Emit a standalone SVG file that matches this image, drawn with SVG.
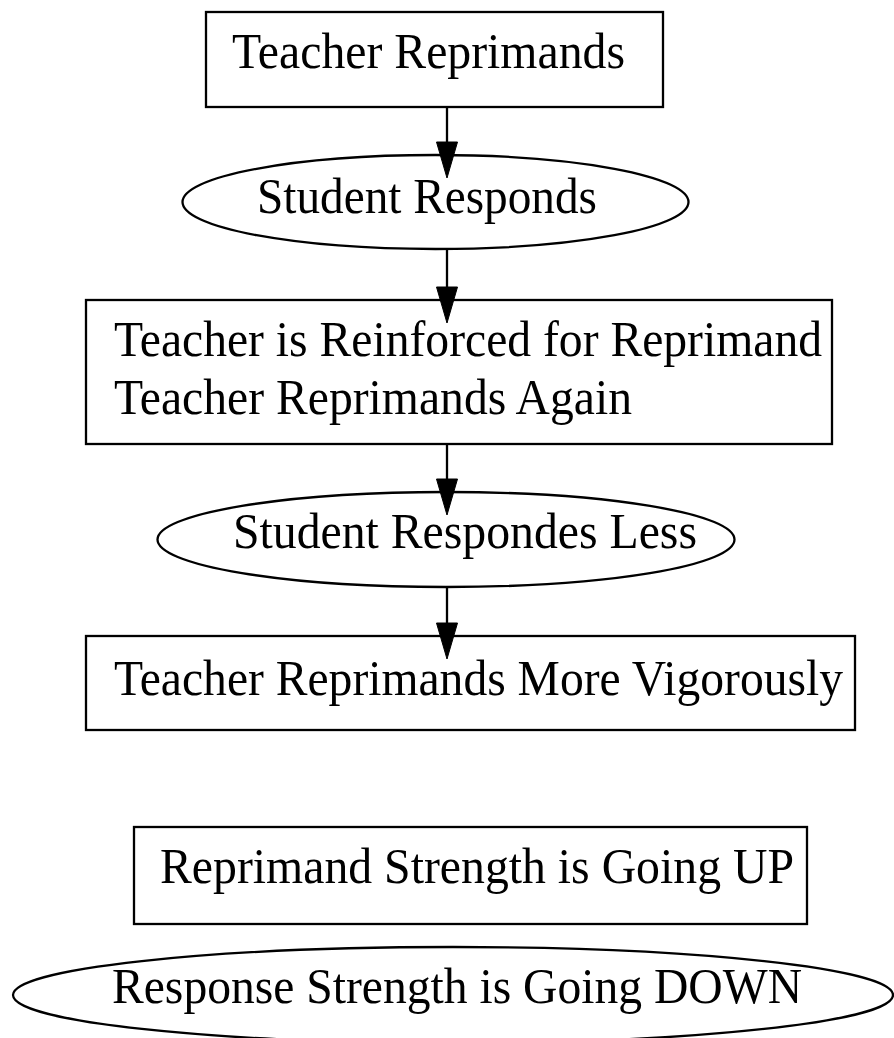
<svg xmlns="http://www.w3.org/2000/svg" width="894" height="1038" viewBox="0 0 894 1038">
<style>
  .shape { fill: #ffffff; stroke: #000000; stroke-width: 2.3; }
  .edge { fill: none; stroke: #000000; stroke-width: 2.3; }
  .head { fill: #000000; stroke: #000000; stroke-width: 1; }
  text { font-family: "Liberation Serif", "Times New Roman", serif; font-size: 50.5px; fill: #000000; }
</style>
<rect width="894" height="1038" fill="#ffffff"/>
<g id="nodes">
  <g id="n1">
    <rect class="shape" x="206" y="12" width="457" height="95"/>
    <text x="232" y="68" textLength="393" lengthAdjust="spacingAndGlyphs">Teacher Reprimands</text>
  </g>
  <g id="n2">
    <ellipse class="shape" cx="435.5" cy="202" rx="253" ry="47"/>
    <text x="257" y="213" textLength="340" lengthAdjust="spacingAndGlyphs">Student Responds</text>
  </g>
  <g id="n3">
    <rect class="shape" x="86" y="300" width="746" height="144"/>
    <text x="114" y="356" textLength="708" lengthAdjust="spacingAndGlyphs">Teacher is Reinforced for Reprimand</text>
    <text x="114" y="414" textLength="518" lengthAdjust="spacingAndGlyphs">Teacher Reprimands Again</text>
  </g>
  <g id="n4">
    <ellipse class="shape" cx="446" cy="539.5" rx="288.5" ry="47.5"/>
    <text x="233" y="548" textLength="464" lengthAdjust="spacingAndGlyphs">Student Respondes Less</text>
  </g>
  <g id="n5">
    <rect class="shape" x="86" y="636" width="769" height="94"/>
    <text x="114" y="695" textLength="729" lengthAdjust="spacingAndGlyphs">Teacher Reprimands More Vigorously</text>
  </g>
  <g id="n6">
    <rect class="shape" x="134" y="827" width="673" height="97"/>
    <text x="160" y="883" textLength="634" lengthAdjust="spacingAndGlyphs">Reprimand Strength is Going UP</text>
  </g>
  <g id="n7">
    <ellipse class="shape" cx="453" cy="995" rx="440" ry="48"/>
    <text x="112" y="1003" textLength="690" lengthAdjust="spacingAndGlyphs">Response Strength is Going DOWN</text>
  </g>
</g>
<g id="connectors">
  <line class="edge" x1="447" y1="107" x2="447" y2="142"/>
  <polygon class="head" points="436.5,142 457.5,142 447,178"/>
  <line class="edge" x1="447" y1="250" x2="447" y2="287"/>
  <polygon class="head" points="436.5,287 457.5,287 447,323"/>
  <line class="edge" x1="447" y1="444" x2="447" y2="479"/>
  <polygon class="head" points="436.5,479 457.5,479 447,515"/>
  <line class="edge" x1="447" y1="587" x2="447" y2="623"/>
  <polygon class="head" points="436.5,623 457.5,623 447,659"/>
</g>
</svg>
